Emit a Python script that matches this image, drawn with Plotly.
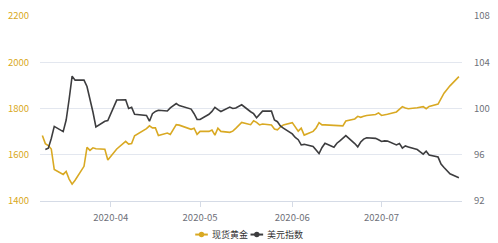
import plotly.graph_objects as go

# ---- data -------------------------------------------------------------
gold_dates = [
    "2020-03-09", "2020-03-10", "2020-03-11", "2020-03-12", "2020-03-13",
    "2020-03-16", "2020-03-17", "2020-03-18", "2020-03-19", "2020-03-20",
    "2020-03-23", "2020-03-24", "2020-03-25", "2020-03-26", "2020-03-27",
    "2020-03-30", "2020-03-31", "2020-04-01", "2020-04-02", "2020-04-03",
    "2020-04-06", "2020-04-07", "2020-04-08", "2020-04-09",
    "2020-04-13", "2020-04-14", "2020-04-15", "2020-04-16", "2020-04-17",
    "2020-04-20", "2020-04-21", "2020-04-22", "2020-04-23", "2020-04-24",
    "2020-04-27", "2020-04-28", "2020-04-29", "2020-04-30", "2020-05-01",
    "2020-05-04", "2020-05-05", "2020-05-06", "2020-05-07", "2020-05-08",
    "2020-05-11", "2020-05-12", "2020-05-13", "2020-05-14", "2020-05-15",
    "2020-05-18", "2020-05-19", "2020-05-20", "2020-05-21", "2020-05-22",
    "2020-05-25", "2020-05-26", "2020-05-27", "2020-05-28", "2020-05-29",
    "2020-06-01", "2020-06-02", "2020-06-03", "2020-06-04", "2020-06-05",
    "2020-06-08", "2020-06-09", "2020-06-10", "2020-06-11", "2020-06-12",
    "2020-06-15", "2020-06-16", "2020-06-17", "2020-06-18", "2020-06-19",
    "2020-06-22", "2020-06-23", "2020-06-24", "2020-06-25", "2020-06-26",
    "2020-06-29", "2020-06-30", "2020-07-01", "2020-07-02", "2020-07-03",
    "2020-07-06", "2020-07-07", "2020-07-08", "2020-07-09", "2020-07-10",
    "2020-07-13", "2020-07-14", "2020-07-15", "2020-07-16", "2020-07-17",
    "2020-07-20", "2020-07-21", "2020-07-22", "2020-07-23", "2020-07-24",
    "2020-07-27",
]
gold_values = [
    1683, 1648, 1640, 1625, 1536,
    1515, 1528, 1495, 1473, 1490,
    1550, 1632, 1619, 1630, 1626,
    1624, 1577, 1593, 1612, 1625,
    1658, 1646, 1648, 1682,
    1713, 1725, 1716, 1716, 1683,
    1694, 1688, 1712, 1730, 1728,
    1714, 1710, 1715, 1688, 1701,
    1701, 1707, 1685, 1715, 1701,
    1697, 1702, 1714, 1728, 1740,
    1730, 1747, 1740, 1729, 1733,
    1729, 1711, 1708, 1720, 1729,
    1739, 1722, 1702, 1715, 1685,
    1701, 1716, 1739, 1729, 1729,
    1726, 1726, 1726, 1725, 1746,
    1755, 1766, 1762, 1766, 1770,
    1774, 1781, 1770, 1774, 1775,
    1785, 1796, 1808, 1802, 1799,
    1803, 1807, 1808, 1799, 1809,
    1819, 1842, 1866, 1882, 1898,
    1938,
]

usd_dates = gold_dates[1:]
usd_values = [
    96.45, 96.56, 97.4, 98.45,
    98.0, 99.0, 100.8, 102.8, 102.45,
    102.45, 101.9, 100.9, 99.7, 98.4,
    98.9, 98.95, 99.6, 100.2, 100.73,
    100.76, 100.0, 100.1, 99.5,
    99.4, 98.9, 99.55, 99.75, 99.85,
    99.78, 100.05, 100.25, 100.43, 100.25,
    100.02, 99.95, 99.55, 99.05, 99.05,
    99.5, 99.75, 100.1, 99.9, 99.74,
    100.12, 100.0, 100.05, 100.19, 100.32,
    99.72, 99.55, 99.2, 99.5, 99.77,
    99.77, 99.0, 98.86, 98.5, 98.3,
    97.8, 97.5, 97.3, 96.85, 96.9,
    96.72, 96.4, 96.1, 96.63, 97.0,
    96.65, 97.0, 97.2, 97.4, 97.65,
    96.97, 96.68, 97.1, 97.35, 97.47,
    97.42, 97.3, 97.15, 97.2, 97.18,
    96.85, 96.98, 96.58, 96.76, 96.68,
    96.45, 96.25, 96.05, 96.3, 95.98,
    95.8, 95.2, 94.9, 94.65, 94.35,
    94.02,
]

gold_name = "现货黄金"
usd_name = "美元指数"
x_ticks = ["2020-04-01", "2020-05-01", "2020-06-01", "2020-07-01"]
x_tick_text = ["2020-04", "2020-05", "2020-06", "2020-07"]
left_ticks = [1400, 1600, 1800, 2000, 2200]
right_ticks = [92, 96, 100, 104, 108]

# ---- style ------------------------------------------------------------
GOLD = "#d9a923"
DARK = "#3d3d3f"
AXIS_TXT = "#6e7079"
GRID = "#e3e7ef"
FONT = "Noto Sans CJK SC, Noto Sans, sans-serif"

W, H = 498, 243
ML, MR, MT, MB = 33, 30, 8, 42
PW, PH = W - ML - MR, H - MT - MB


def px_x(p):
    return (p - ML) / PW


def px_y(p):
    return (H - MB - p) / PH


fig = go.Figure()
fig.add_trace(go.Scatter(x=gold_dates, y=gold_values, mode="lines", name=gold_name,
                         line=dict(color=GOLD, width=1.6), showlegend=False,
                         yaxis="y"))
fig.add_trace(go.Scatter(x=usd_dates, y=usd_values, mode="lines", name=usd_name,
                         line=dict(color=DARK, width=1.6), showlegend=False,
                         yaxis="y2"))

# ECharts-style legend: short line with a dot, then the label
legend_items = [(gold_name, GOLD, 193), (usd_name, DARK, 250)]
shapes, annotations = [], []
ly = px_y(236)
for name, col, x0 in legend_items:
    shapes.append(dict(type="line", xref="paper", yref="paper",
                       x0=px_x(x0), x1=px_x(x0 + 13), y0=ly, y1=ly,
                       line=dict(color=col, width=2)))
    shapes.append(dict(type="circle", xref="paper", yref="paper",
                       xsizemode="pixel", ysizemode="pixel",
                       xanchor=px_x(x0 + 6.5), yanchor=ly,
                       x0=-2.7, x1=2.7, y0=-2.7, y1=2.7,
                       fillcolor=col, line=dict(color=col, width=0)))
    annotations.append(dict(text=name, xref="paper", yref="paper",
                            x=px_x(x0 + 15), y=ly, xanchor="left", yanchor="middle",
                            showarrow=False,
                            font=dict(size=9, color="#333333", family=FONT)))

fig.update_layout(
    width=W, height=H,
    margin=dict(l=ML, r=MR, t=MT, b=MB),
    paper_bgcolor="white", plot_bgcolor="white",
    font=dict(family=FONT, size=10, color=AXIS_TXT),
    showlegend=False,
    shapes=shapes, annotations=annotations,
    xaxis=dict(
        type="date",
        range=["2020-03-08 05:00", "2020-07-28 01:00"],
        tickvals=x_ticks, ticktext=x_tick_text,
        showgrid=False, zeroline=False,
        showline=True, linecolor="#d5dbe6", linewidth=1,
        ticks="outside", ticklen=5, tickcolor="#d5dbe6",
        tickfont=dict(size=9.5, color=AXIS_TXT),
        ticklabelstandoff=3,
    ),
    yaxis=dict(
        range=[1400, 2200], tickvals=left_ticks,
        showgrid=True, gridcolor=GRID, gridwidth=1,
        zeroline=False, showline=False,
        tickfont=dict(size=9.5, color=GOLD),
        ticklabelstandoff=10,
    ),
    yaxis2=dict(
        range=[92, 108], tickvals=right_ticks,
        overlaying="y", side="right",
        showgrid=False, zeroline=False, showline=False,
        tickfont=dict(size=9.5, color=AXIS_TXT),
        ticklabelstandoff=11,
    ),
)

fig.write_html("out.html")
